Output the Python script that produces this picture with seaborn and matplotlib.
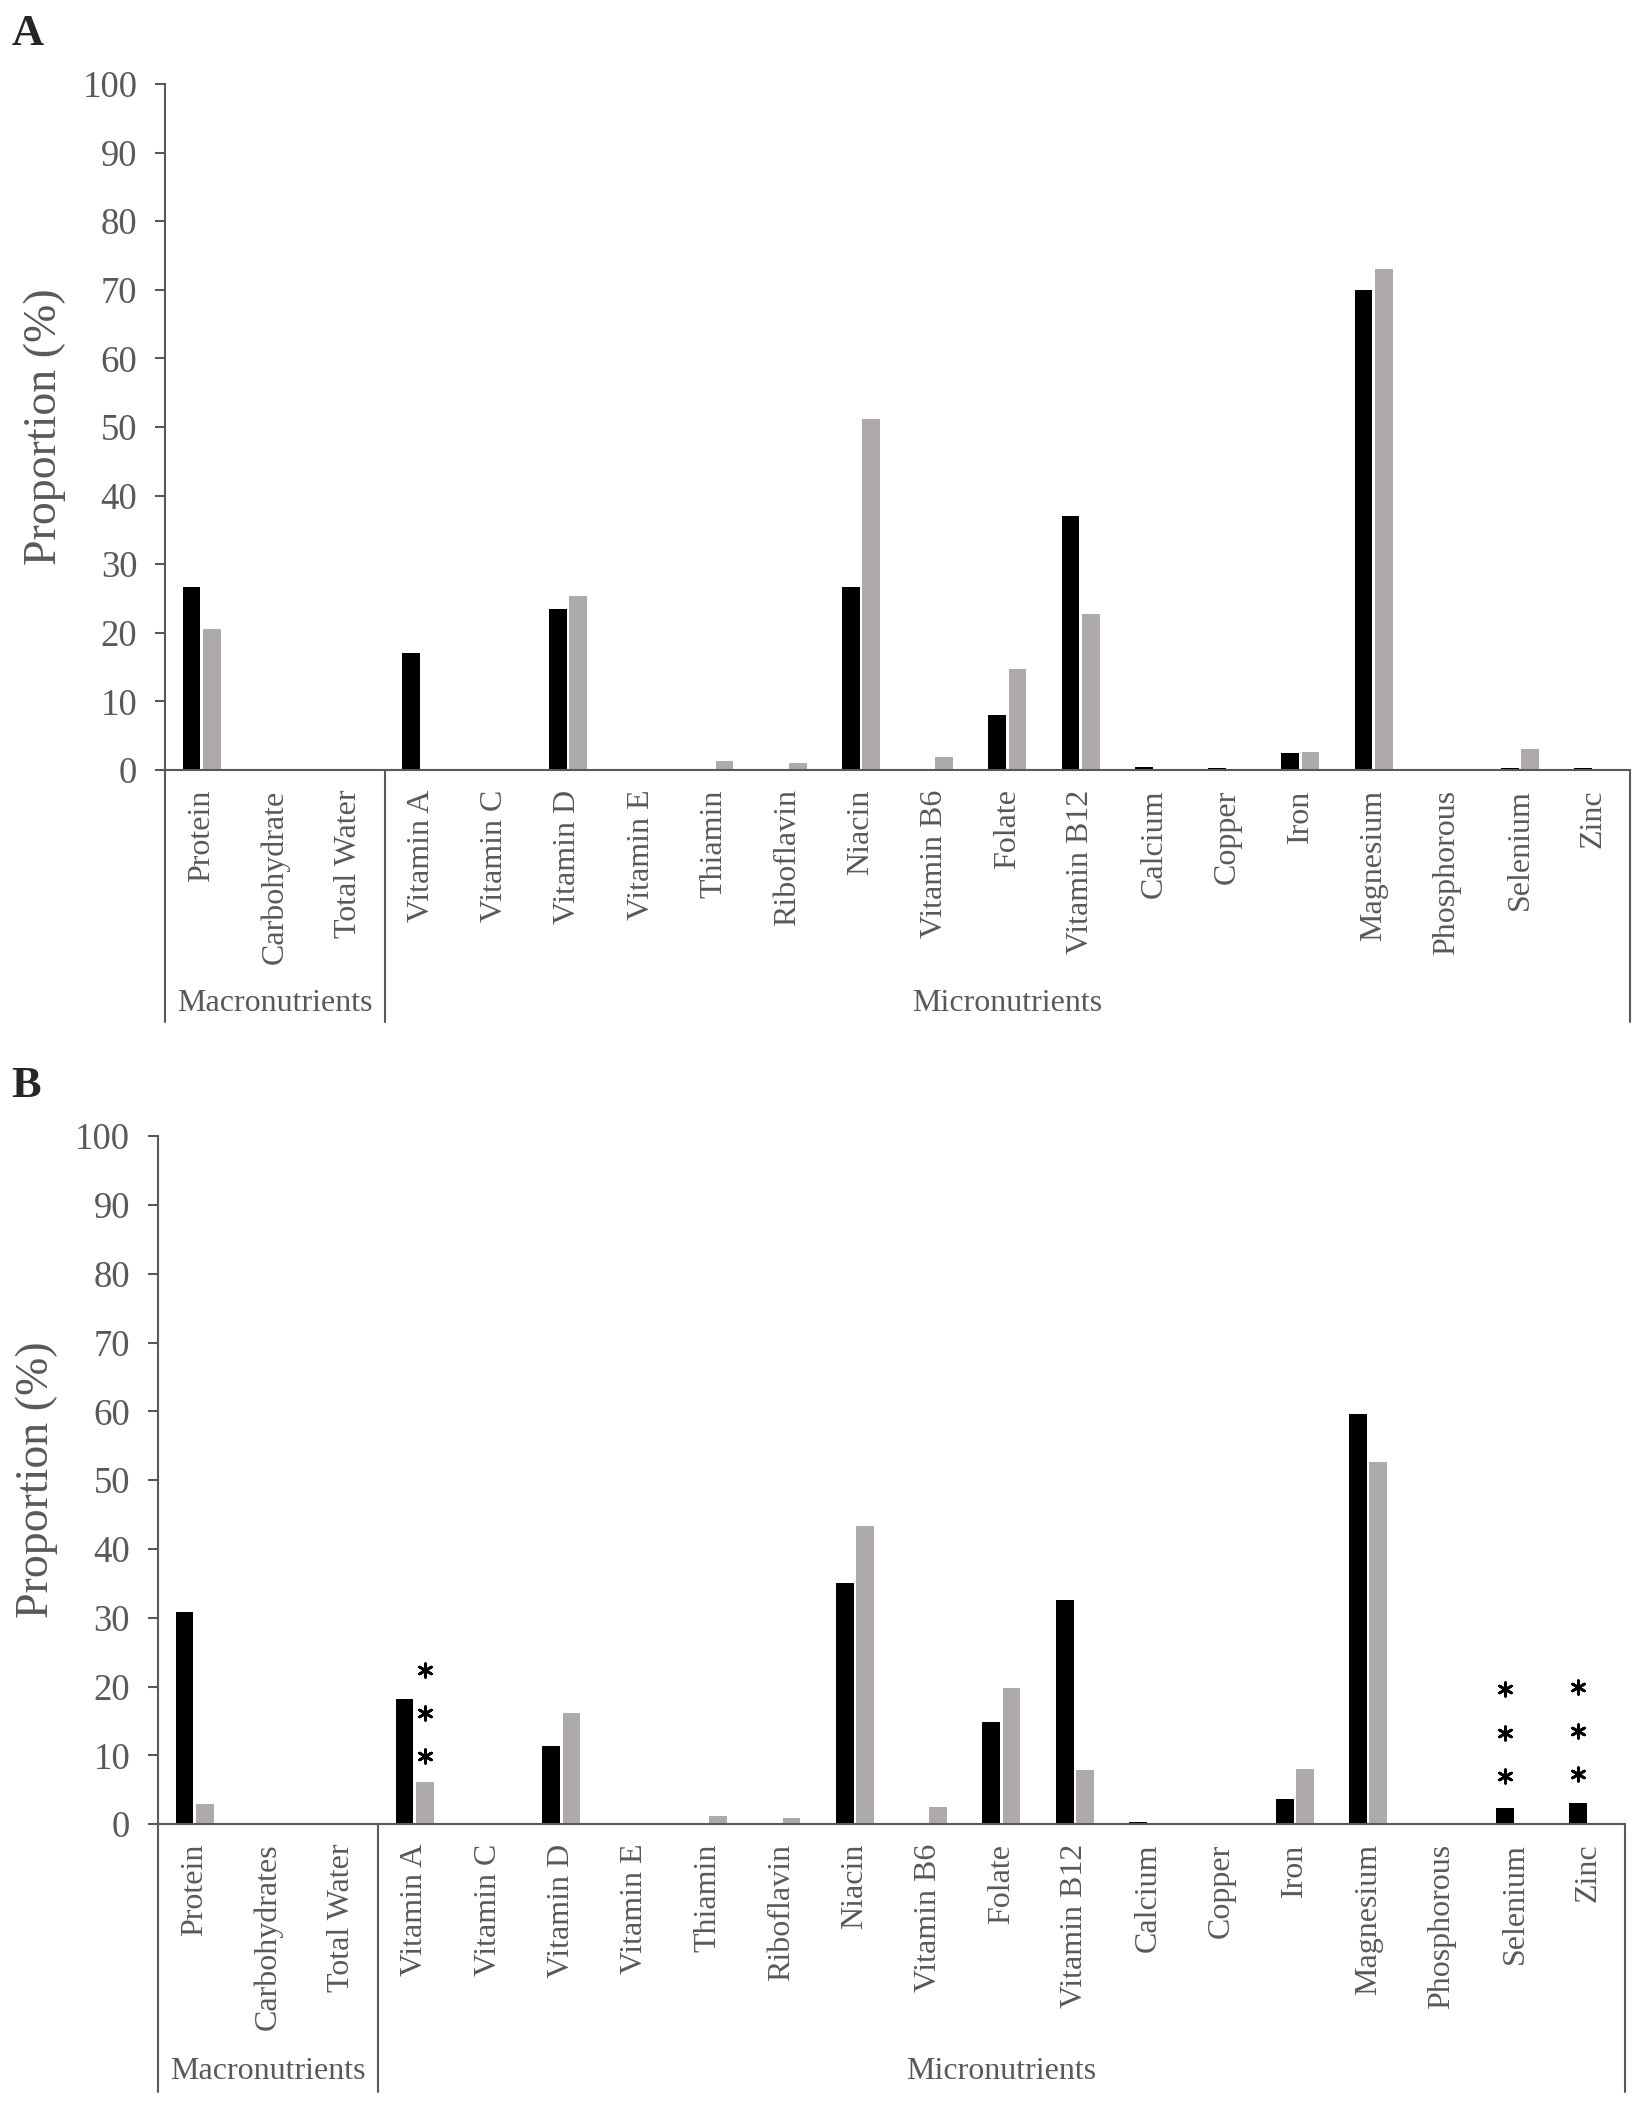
import numpy as np
import pandas as pd
import seaborn as sns
import matplotlib.pyplot as plt
import matplotlib.transforms as mtrans

# categories
macro_a = ['Protein', 'Carbohydrate', 'Total Water']
macro_b = ['Protein', 'Carbohydrates', 'Total Water']
micro = ['Vitamin A', 'Vitamin C', 'Vitamin D', 'Vitamin E', 'Thiamin', 'Riboflavin',
         'Niacin', 'Vitamin B6', 'Folate', 'Vitamin B12', 'Calcium', 'Copper', 'Iron',
         'Magnesium', 'Phosphorous', 'Selenium', 'Zinc']

# panel A values (%)
a_black = [26.7, 0, 0, 17.0, 0, 23.4, 0, 0, 0, 26.7, 0, 8.0, 37.0, 0.5, 0.25, 2.5, 69.9, 0, 0.25, 0.25]
a_gray = [20.6, 0, 0, 0, 0, 25.3, 0, 1.3, 1.0, 51.1, 1.9, 14.8, 22.8, 0, 0, 2.6, 73.1, 0, 3.0, 0]

# panel B values (%)
b_black = [30.8, 0, 0, 18.2, 0, 11.4, 0, 0, 0, 35.0, 0, 14.8, 32.6, 0.25, 0, 3.6, 59.6, 0, 2.3, 3.0]
b_gray = [2.9, 0, 0, 6.1, 0, 16.2, 0, 1.2, 0.9, 43.3, 2.5, 19.8, 7.9, 0, 0, 8.0, 52.6, 0, 0, 0]

# significance asterisks in panel B: (category, series, y levels)
stars_cat = ['Vitamin A', 'Selenium', 'Zinc']
stars_series = ['series 2', 'series 1', 'series 1']
stars_y = [[22.4, 16.1, 9.9], [19.6, 13.3, 7.0], [20.0, 13.6, 7.3]]

series_names = ['series 1', 'series 2']
colors = ['#000000', '#AEAAAA']
text_grey = '#595959'
bar_width = 0.55

sns.set_style('white')
plt.rcParams['font.family'] = ['Liberation Serif', 'DejaVu Serif']


def make_df(cats, black, gray):
    return pd.DataFrame({
        'nutrient': cats * 2,
        'series': [series_names[0]] * len(cats) + [series_names[1]] * len(cats),
        'value': list(black) + list(gray),
    })


def draw_panel(ax, cats, black, gray, bottom, group_y):
    df = make_df(cats, black, gray)
    sns.barplot(data=df, x='nutrient', y='value', hue='series', order=cats,
                hue_order=series_names, palette=colors, width=bar_width, gap=0.12,
                linewidth=0, saturation=1, legend=False, ax=ax)
    n = len(cats)
    ax.set_xlim(-0.5, n - 0.5)
    ax.set_ylim(0, 100)
    ax.set_yticks(range(0, 101, 10))
    ax.set_xlabel('')
    ax.set_ylabel('Proportion (%)', fontsize=33, color=text_grey, labelpad=12)
    ax.tick_params(axis='y', direction='out', length=7, width=1.5, color=text_grey,
                   labelsize=26.5, labelcolor=text_grey, pad=13, left=True)
    ax.tick_params(axis='x', length=0, labelsize=23, labelcolor=text_grey, pad=14)
    for lab in ax.get_xticklabels():
        lab.set_rotation(90)
        lab.set_va('top')
        lab.set_ha('center')
    for s in ['top', 'right']:
        ax.spines[s].set_visible(False)
    for s in ['left', 'bottom']:
        ax.spines[s].set_color(text_grey)
        ax.spines[s].set_linewidth(1.5)

    # multi-level category axis brackets
    trans = mtrans.blended_transform_factory(ax.transData, ax.transAxes)
    n_macro = 3
    for xv in [-0.5, n_macro - 0.5, n - 0.5]:
        ax.plot([xv, xv], [0, bottom], transform=trans, color=text_grey, lw=1.5,
                clip_on=False)
    ax.text((n_macro - 1) / 2, group_y, 'Macronutrients', transform=trans, ha='center',
            va='center', fontsize=23, color=text_grey)
    ax.text((n_macro + n - 1) / 2, group_y, 'Micronutrients', transform=trans,
            ha='center', va='center', fontsize=23, color=text_grey)
    return ax


fig = plt.figure(figsize=(16.52, 21.26), dpi=100)
ax_a = fig.add_axes([0.0999, 0.6378, 0.8868, 0.3227])
ax_b = fig.add_axes([0.0956, 0.1420, 0.8880, 0.3236])

draw_panel(ax_a, macro_a + micro, a_black, a_gray, -0.367, -0.340)
draw_panel(ax_b, macro_b + micro, b_black, b_gray, -0.390, -0.360)

# asterisks
cats_b = macro_b + micro
offset = bar_width / 4
for cat, ser, ys in zip(stars_cat, stars_series, stars_y):
    xc = cats_b.index(cat) + (offset if ser == series_names[1] else -offset)
    ax_b.scatter([xc] * len(ys), ys, marker=(6, 2, 0), s=95, color='black',
                 linewidths=2.0, zorder=5, clip_on=False)

fig.text(0.007, 0.9935, 'A', fontsize=32, fontweight='bold', ha='left', va='top')
fig.text(0.007, 0.4985, 'B', fontsize=32, fontweight='bold', ha='left', va='top')

fig.savefig('out.png', dpi=100, facecolor='white')
